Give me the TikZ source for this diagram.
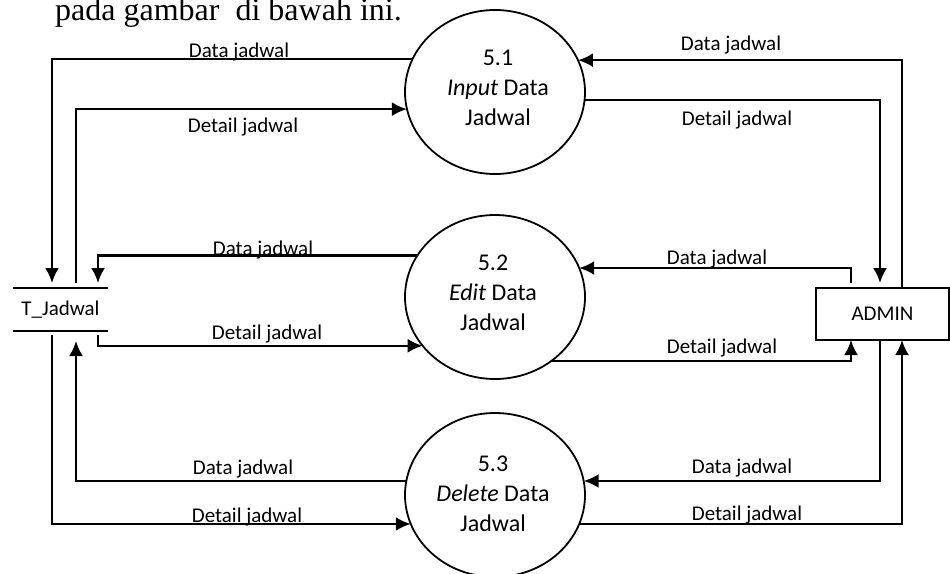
\documentclass[tikz,border=0pt]{standalone}
\usepackage{fontspec}
\setmainfont{Carlito}
\newfontfamily\headfont{Liberation Serif}
\usetikzlibrary{arrows.meta,shapes.geometric}
\begin{document}
\begin{tikzpicture}[x=1pt,y=-1pt,
  proc/.style={draw, ellipse, line width=1.8pt, minimum width=180pt, minimum height=164pt, inner sep=0pt, outer sep=0pt},
  ptext/.style={align=center, font=\fontsize{24}{30}\selectfont, inner sep=0pt},
  lbl/.style={font=\fontsize{21}{25}\selectfont, anchor=base, inner sep=0pt},
  flow/.style={line width=2.4pt, -{Latex[length=15pt,width=14pt]}},
  store/.style={minimum width=95pt, minimum height=43pt, inner sep=0pt, outer sep=0pt, font=\fontsize{21}{25}\selectfont},
  entity/.style={draw, line width=2.2pt, minimum width=133pt, minimum height=52pt, inner sep=0pt, outer sep=0pt, font=\fontsize{21}{25}\selectfont},
]
\fill[white] (0,0) rectangle (950,573);
\useasboundingbox (0,0) rectangle (950,573);

\node[font=\headfont\fontsize{32}{36}\selectfont, anchor=base west, inner sep=0pt] (head) at (55,20) {pada gambar~ di bawah ini.};

% processes
\node[proc] (p1) at (495,92) {};
\node[ptext] (p1t) at (498,88) {5.1\\\textit{Input} Data\\Jadwal};
\node[proc] (p2) at (495,297) {};
\node[ptext] (p2t) at (493,293) {5.2\\\textit{Edit} Data\\Jadwal};
\node[proc] (p3) at (495,495) {};
\node[ptext] (p3t) at (493,494) {5.3\\\textit{Delete} Data\\Jadwal};

% data store
\node[store] (tj) at (60.5,309.5) {T\_Jadwal};
\draw[line width=2.2pt] (tj.north west) -- (tj.north east);
\draw[line width=2.2pt] (tj.south west) -- (tj.south east);

% entity
\node[entity] (ad) at (882.5,314) {ADMIN};

% vertical lanes
\coordinate (L1) at (52,0);
\coordinate (L2) at (76,0);
\coordinate (L3) at (98,0);
\coordinate (R1) at (851,0);
\coordinate (R2) at (880,0);
\coordinate (R3) at (902,0);

% left side flows
\draw[flow, shorten >=5pt] (p1.158.9) -| (tj.north -| L1);
\draw[flow, shorten <=5pt] (tj.north -| L2) |- (p1.191.6);
\draw[flow, shorten >=5pt] (p2.152.2) -| (tj.north -| L3);
\draw[flow, shorten <=4pt] (tj.south -| L3) |- (p2.214.2);
\draw[flow, shorten >=10pt] (p3.171) -| (tj.south -| L2);
\draw[flow, shorten <=4pt] (tj.south -| L1) |- (p3.199);

% right side flows
\draw[flow] (ad.north -| R3) |- (p1.21.1);
\draw[flow, shorten >=5pt] (p1.-5.1) -| (ad.north -| R2);
\draw[flow, shorten <=5pt] (ad.north -| R1) |- (p2.19.7);
\draw[flow] (p2.-49.8) -| (ad.south -| R1);
\draw[flow] (ad.south -| R2) |- (p3.9);
\draw[flow] (p3.-19) -| (ad.south -| R3);

% labels
\node[lbl] (l1) at (239,57) {Data jadwal};
\node[lbl] (l2) at (243,132) {Detail jadwal};
\node[lbl] (l3) at (263,255) {Data jadwal};
\node[lbl] (l4) at (267,339) {Detail jadwal};
\node[lbl] (l5) at (243,474) {Data jadwal};
\node[lbl] (l6) at (247,522) {Detail jadwal};
\node[lbl] (r1) at (731,50) {Data jadwal};
\node[lbl] (r2) at (737,125) {Detail jadwal};
\node[lbl] (r3) at (717,264) {Data jadwal};
\node[lbl] (r4) at (722,353) {Detail jadwal};
\node[lbl] (r5) at (742,473) {Data jadwal};
\node[lbl] (r6) at (747,520) {Detail jadwal};
\end{tikzpicture}
\end{document}
